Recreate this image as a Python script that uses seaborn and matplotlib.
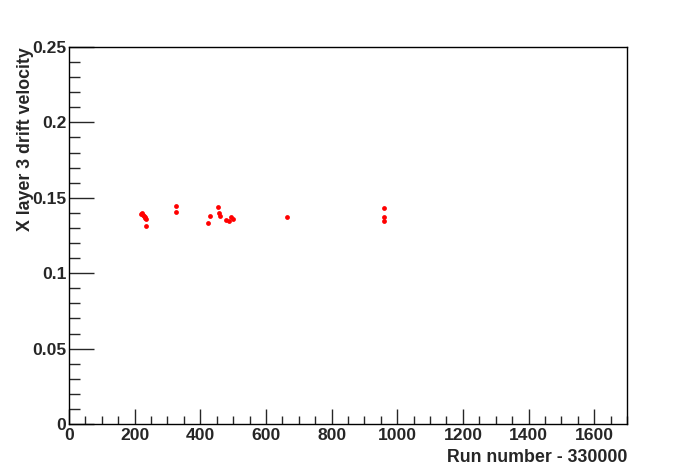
import numpy as np
import pandas as pd
import seaborn as sns
import matplotlib.pyplot as plt
from matplotlib.ticker import MultipleLocator

# run number offset from 330000, drift velocity for X layer 3
runs = [219, 222, 225, 229, 232, 235, 233, 235, 326, 326,
        430, 424, 454, 457, 460, 478, 488, 494, 500, 664,
        960, 960, 960]
velocity = [0.1393, 0.1399, 0.1386, 0.1379, 0.1373, 0.1359, 0.1365, 0.1313, 0.1446, 0.1406,
            0.1379, 0.1333, 0.1439, 0.1399, 0.1379, 0.1353, 0.1346, 0.1373, 0.1359, 0.1373,
            0.1432, 0.1373, 0.1346]

df = pd.DataFrame({'run': runs, 'v': velocity})

sns.set_style("white")
plt.rcParams['font.family'] = ['Liberation Sans', 'DejaVu Sans']
plt.rcParams['font.weight'] = 'bold'

fig = plt.figure(figsize=(6.96, 4.72), dpi=100)
ax = fig.add_axes([0.0991, 0.1017, 0.8018, 0.7987])

sns.scatterplot(data=df, x='run', y='v', ax=ax, color='red', marker='o',
                s=12, edgecolor='red', linewidth=0)

ax.set_xlim(0, 1700)
ax.set_ylim(0, 0.25)
ax.xaxis.set_major_locator(MultipleLocator(200))
ax.xaxis.set_minor_locator(MultipleLocator(50))
ax.yaxis.set_major_locator(MultipleLocator(0.05))
ax.yaxis.set_minor_locator(MultipleLocator(0.01))
ax.set_yticks([0, 0.05, 0.1, 0.15, 0.2, 0.25])
ax.set_yticklabels(['0', '0.05', '0.1', '0.15', '0.2', '0.25'])

ax.tick_params(axis='x', which='major', direction='in', length=11, width=1,
               labelsize=12.6, pad=3, top=False, bottom=True)
ax.tick_params(axis='x', which='minor', direction='in', length=6, width=1,
               top=False, bottom=True)
ax.tick_params(axis='y', which='major', direction='in', length=18, width=1,
               labelsize=12.6, pad=2, left=True, right=False)
ax.tick_params(axis='y', which='minor', direction='in', length=8, width=1,
               left=True, right=False)
for lab in ax.get_xticklabels() + ax.get_yticklabels():
    lab.set_fontweight('bold')

for sp in ax.spines.values():
    sp.set_color('black')
    sp.set_linewidth(1)

ax.set_xlabel('Run number - 330000', fontsize=12.8, fontweight='bold', loc='right', labelpad=4)
ax.set_ylabel('X layer 3 drift velocity', fontsize=12.8, fontweight='bold', loc='top')
ax.yaxis.set_label_coords(-0.063, 1.0)

fig.savefig('out.png', dpi=100)
